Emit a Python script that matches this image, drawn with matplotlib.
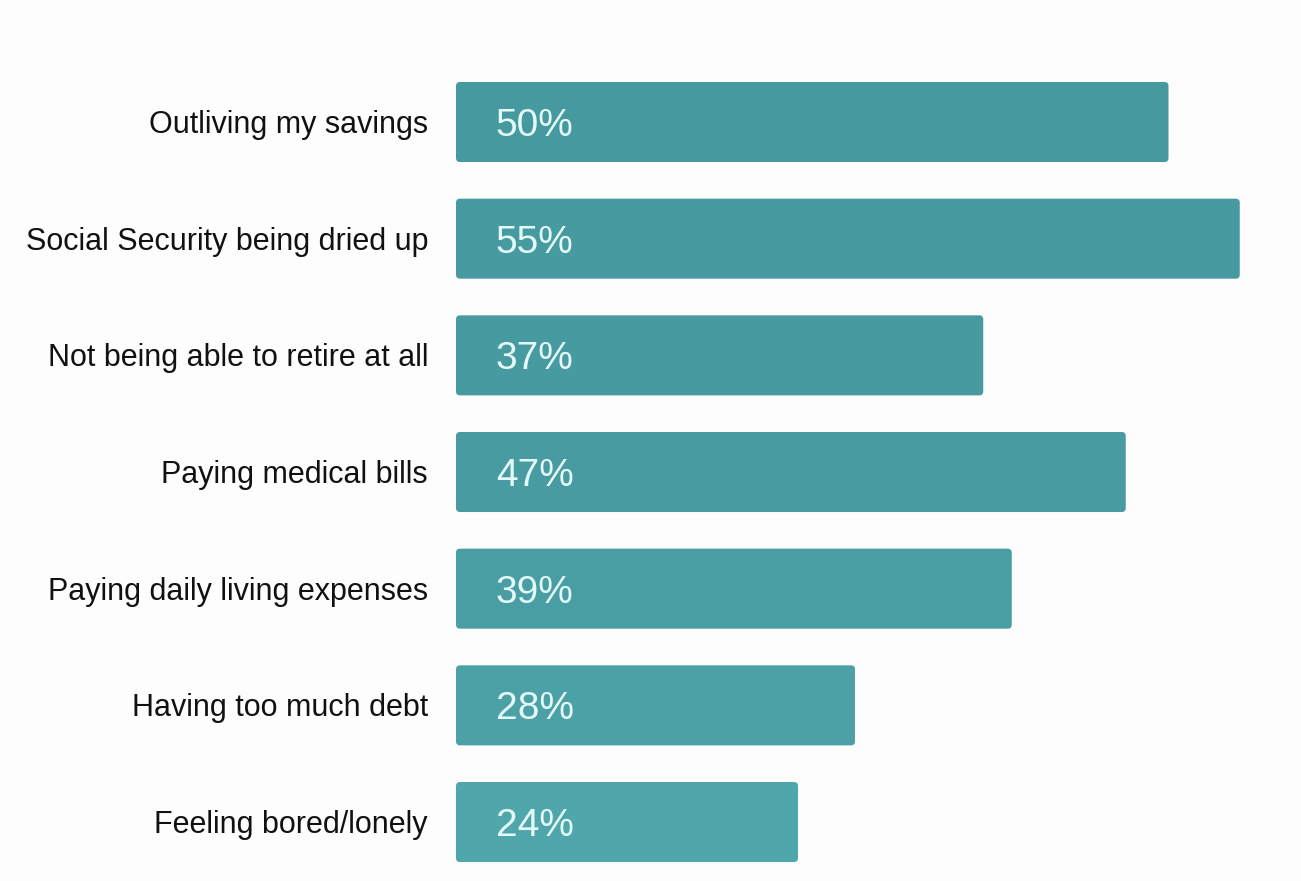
import matplotlib
matplotlib.use("Agg")
import matplotlib.pyplot as plt
from matplotlib.patches import FancyBboxPatch

categories = [
    "Outliving my savings",
    "Social Security being dried up",
    "Not being able to retire at all",
    "Paying medical bills",
    "Paying daily living expenses",
    "Having too much debt",
    "Feeling bored/lonely",
]
values = [50, 55, 37, 47, 39, 28, 24]
bar_colors = ["#469a9f", "#479a9f", "#479ba0", "#489ca1", "#499ea3", "#4ba1a6", "#4fa7ac"]

W, H = 1301, 881
fig = plt.figure(figsize=(W / 100, H / 100), dpi=100)
fig.patch.set_facecolor("#fdfdfd")

left_px = 456
ax = fig.add_axes([left_px / W, 0, 1 - left_px / W, 1])
ax.set_facecolor("none")

px_per_unit = 14.25
step = 116.67
first = 122
ax.set_xlim(0, (W - left_px) / px_per_unit)
ax.set_ylim((H - first) / step, -first / step)

ypos = list(range(len(categories)))
bars = ax.barh(ypos, values, height=0.686, color=bar_colors, edgecolor="none")

# rounded corners
rx = 4 / px_per_unit
ry = 4 / step
for b in bars:
    x0, y0 = b.get_x(), b.get_y()
    w, h = b.get_width(), b.get_height()
    fb = FancyBboxPatch((x0, y0), w, h,
                        boxstyle=f"round,pad=0,rounding_size={rx}",
                        mutation_aspect=ry / rx,
                        facecolor=b.get_facecolor(), edgecolor="none")
    b.set_visible(False)
    ax.add_patch(fb)

pct_size = 28
lab_size = 22
pct_off = (0.716 * pct_size * 100 / 72) / 2 / step
lab_off = (0.716 * lab_size * 100 / 72) / 2 / step

for y, v in zip(ypos, values):
    ax.text(2.8, y + pct_off, f"{v}%", color="#e4fafa", fontsize=pct_size,
            va="baseline", ha="left", family="Liberation Sans")
    ax.text(-28 / px_per_unit, y + lab_off, categories[y], color="#111111",
            fontsize=lab_size, va="baseline", ha="right", family="Liberation Sans")

ax.set_xticks([])
ax.set_yticks([])
for s in ax.spines.values():
    s.set_visible(False)

fig.savefig("out.png", dpi=100, facecolor=fig.get_facecolor())
